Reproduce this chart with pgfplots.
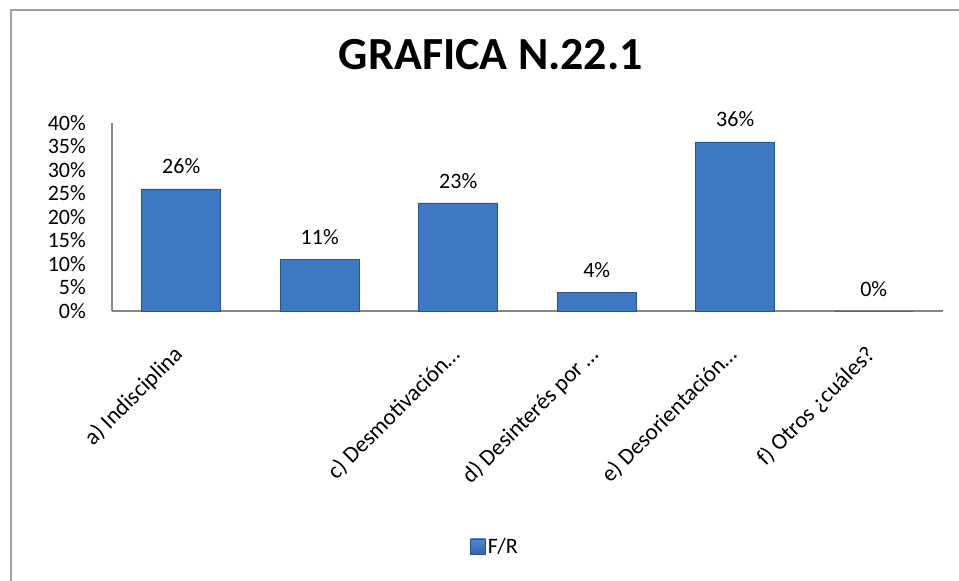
\documentclass[border=0pt]{standalone}
\usepackage{fontspec}
\setmainfont{Carlito}
\usepackage{pgfplots}
\pgfplotsset{compat=1.18}
\definecolor{barblue}{RGB}{62,120,194}
\definecolor{bartop}{RGB}{78,140,216}
\definecolor{barbot}{RGB}{50,100,168}
\definecolor{bardark}{RGB}{40,84,145}
\definecolor{axgrey}{RGB}{134,134,134}
\definecolor{framegrey}{RGB}{160,160,160}
\begin{document}
\begin{tikzpicture}
\path[use as bounding box] (-112pt,-270pt) rectangle (847pt,311pt);
\draw[framegrey, line width=2pt] (-101pt,-272pt) -- (-101pt,301pt) -- (849pt,301pt);
\begin{axis}[
  at={(0pt,0pt)}, anchor=south west,
  scale only axis, width=831pt, height=188pt,
  xmin=-0.5, xmax=5.5, ymin=0, ymax=40,
  axis lines=left,
  axis line style={axgrey, line width=1.5pt, -},
  major tick length=0pt,
  ytick={0,5,...,40},
  yticklabel={\pgfmathprintnumber{\tick}\%},
  /pgf/number format/assume math mode=true,
  xtick={0,1,2,3,4,5},
  xticklabels={a) Indisciplina,,c) Desmotivación…,d) Desinterés por …,e) Desorientación…,f) Otros ¿cuáles?},
  yticklabel style={font=\fontsize{22}{24}\selectfont, inner sep=0pt, xshift=-26pt, anchor=east},
  xticklabel style={font=\fontsize{23}{26}\selectfont, yshift=-40pt, xshift=-2pt, rotate=45, anchor=east, inner sep=0pt},
  ybar, bar width=79pt,
  clip=false,
  nodes near coords={\pgfmathprintnumber{\pgfplotspointmeta}\%},
  nodes near coords style={font=\fontsize{22}{24}\selectfont, anchor=south, yshift=11pt, black},
  title={GRAFICA N.22.1},
  title style={at={(0.456,1)}, anchor=base, yshift=48pt, font=\bfseries\fontsize{46}{50}\selectfont},
  legend style={at={(0.461,-1.255)}, anchor=center, draw=none, font=\fontsize{22}{24}\selectfont},
  legend image code/.code={\draw[top color=bartop, bottom color=barbot, draw=bardark] (0pt,-7pt) rectangle (15pt,8pt);},
]
\addplot[fill=barblue, draw=bardark, line width=0.6pt] coordinates {(0,26) (1,11) (2,23) (3,4) (4,36) (5,0)};
\addlegendentry{F/R}
\end{axis}
\end{tikzpicture}
\end{document}
